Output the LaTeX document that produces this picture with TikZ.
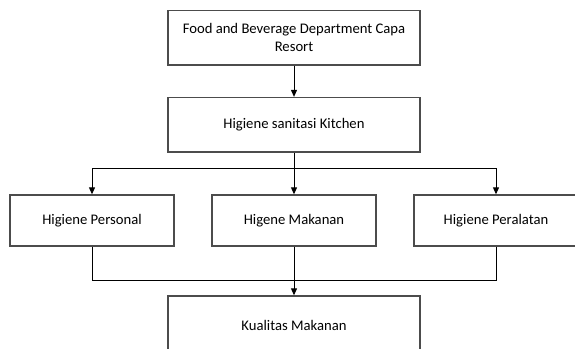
\documentclass[tikz,border=0pt]{standalone}
\usepackage{fontspec}
\setmainfont{Carlito}
\usetikzlibrary{arrows.meta}

\newcommand*{\wbox}{189pt}
\newcommand*{\nbox}{123pt}

\begin{document}
\begin{tikzpicture}
[
	x=0.75pt,
	y=-0.75pt,
	bigbox/.style={draw=black!70,line width=1pt,minimum width=\wbox,minimum height=40.9pt,inner sep=2pt,align=center,font=\fontsize{11pt}{13.5pt}\selectfont},
	smallbox/.style={bigbox,minimum width=\nbox,minimum height=38.25pt},
	link/.style={-{Triangle[width=4.5pt,length=5.25pt]},black,line width=0.75pt},
	joint/.style={black,line width=0.75pt}
]
	\useasboundingbox (0,0) rectangle (575,349);
	\clip (0,0) rectangle (575,349);

	% boxes
	\node[bigbox] (dept) at (294,37.8) {Food and Beverage Department Capa\\Resort};
	\node[bigbox] (kitchen) at (294,124.8) {Higiene sanitasi Kitchen};
	\node[smallbox] (personal) at (92,220.5) {Higiene Personal};
	\node[smallbox] (makanan) at (294,220.5) {Higene Makanan};
	\node[smallbox] (peralatan) at (496,220.5) {Higiene Peralatan};
	\node[bigbox,minimum height=43.5pt] (kualitas) at (294,325) {Kualitas Makanan};

	% connectors
	\coordinate (split) at (294,169);
	\coordinate (join) at (294,280);
	\draw[link] (dept) -- (kitchen);
	\draw[joint] (kitchen) -- (split);
	\draw[link] (split) -| (personal);
	\draw[link] (split) -- (makanan);
	\draw[link] (split) -| (peralatan);
	\draw[joint] (personal) |- (join);
	\draw[joint] (peralatan) |- (join);
	\draw[joint] (makanan) -- (join);
	\draw[link] (join) -- (kualitas);

\end{tikzpicture}
\end{document}
